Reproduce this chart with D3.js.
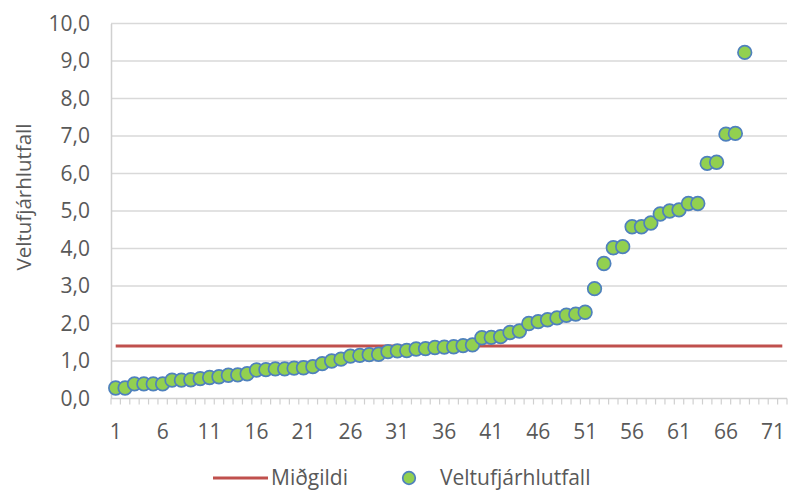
<!DOCTYPE html>
<html>
<head>
<meta charset="utf-8">
<script src="https://cdn.jsdelivr.net/npm/d3@7"></script>
<style>
  body { margin: 0; background: #fff; }
  text { font-family: "Open Sans", sans-serif; fill: #595959; }
</style>
</head>
<body>
<div id="chart"></div>
<script>
// values, sorted ascending
const ratios = [0.28, 0.28, 0.39, 0.39, 0.39, 0.39, 0.49, 0.49, 0.50, 0.53,
  0.56, 0.58, 0.62, 0.63, 0.66, 0.76, 0.77, 0.79, 0.79, 0.81,
  0.82, 0.85, 0.93, 1.00, 1.05, 1.13, 1.15, 1.17, 1.18, 1.25,
  1.27, 1.28, 1.32, 1.33, 1.36, 1.37, 1.38, 1.41, 1.43, 1.62,
  1.63, 1.65, 1.76, 1.80, 2.00, 2.05, 2.10, 2.15, 2.22, 2.25,
  2.30, 2.93, 3.60, 4.02, 4.05, 4.58, 4.58, 4.68, 4.92, 5.00,
  5.03, 5.20, 5.20, 6.27, 6.30, 7.05, 7.07, 9.23]
const categories = d3.range(1, 73)
const median = 1.4
const medianLine = categories.map(c => median)
const yTicks = [0, 1, 2, 3, 4, 5, 6, 7, 8, 9, 10]
const xLabels = [1, 6, 11, 16, 21, 26, 31, 36, 41, 46, 51, 56, 61, 66, 71]
const seriesNames = ['Miðgildi', 'Veltufjárhlutfall']

const w = 792, h = 493
const margin = {top: 23.5, right: 5, bottom: 94.5, left: 111}

const svg = d3.select('#chart').append('svg')
    .attr('width', w)
    .attr('height', h)

const x = d3.scaleBand()
    .domain(categories)
    .range([margin.left, w - margin.right])
const y = d3.scaleLinear()
    .domain([0, 10])
    .range([h - margin.bottom, margin.top])

// gridlines
svg.append('g')
    .selectAll('line')
    .data(yTicks.slice(1))
    .enter()
    .append('line')
    .attr('x1', margin.left)
    .attr('x2', w - margin.right)
    .attr('y1', d => y(d))
    .attr('y2', d => y(d))
    .attr('stroke', '#d9d9d9')
    .attr('stroke-width', 1.5)

// y axis
const yAxis = svg.append('g')
    .attr('transform', 'translate(' + margin.left + ',0)')
    .call(d3.axisLeft(y).tickValues(yTicks).tickSize(0).tickPadding(21)
        .tickFormat(d => d3.format('.1f')(d).replace('.', ',')))
yAxis.select('.domain').attr('stroke', '#d0d0d0').attr('stroke-width', 1.5)
yAxis.selectAll('text').attr('font-size', 21).style('fill', '#595959')

// x axis, ticks between categories
const bottom = h - margin.bottom
svg.append('line')
    .attr('x1', margin.left).attr('x2', w - margin.right)
    .attr('y1', bottom).attr('y2', bottom)
    .attr('stroke', '#d0d0d0').attr('stroke-width', 1.5)
svg.append('g')
    .selectAll('line')
    .data(categories.concat([73]))
    .enter()
    .append('line')
    .attr('x1', d => d > 72 ? w - margin.right : x(d))
    .attr('x2', d => d > 72 ? w - margin.right : x(d))
    .attr('y1', bottom)
    .attr('y2', bottom + 6)
    .attr('stroke', '#d0d0d0')
    .attr('stroke-width', 1.2)
svg.append('g')
    .selectAll('text')
    .data(xLabels)
    .enter()
    .append('text')
    .attr('x', d => x(d) + x.bandwidth() / 2)
    .attr('y', bottom + 40)
    .attr('text-anchor', 'middle')
    .attr('font-size', 21)
    .text(d => d)

// y title
svg.append('text')
    .attr('transform', 'translate(31,197) rotate(-90)')
    .attr('text-anchor', 'middle')
    .attr('font-size', 20.5)
    .text(seriesNames[1])

// median line
const line = d3.line()
    .x((d, i) => x(categories[i]) + x.bandwidth() / 2)
    .y(d => y(d))
svg.append('path')
    .datum(medianLine)
    .attr('d', line)
    .attr('fill', 'none')
    .attr('stroke', '#c0504d')
    .attr('stroke-width', 3)

// points
svg.append('g')
    .selectAll('circle')
    .data(ratios)
    .enter()
    .append('circle')
    .attr('cx', (d, i) => x(categories[i]) + x.bandwidth() / 2)
    .attr('cy', d => y(d))
    .attr('r', 6.8)
    .attr('fill', '#92d050')
    .attr('stroke', '#4f81bd')
    .attr('stroke-width', 1.7)

// legend
const ly = 478
svg.append('line')
    .attr('x1', 213).attr('x2', 268)
    .attr('y1', ly).attr('y2', ly)
    .attr('stroke', '#c0504d').attr('stroke-width', 3)
svg.append('text')
    .attr('x', 271).attr('y', ly + 7)
    .attr('font-size', 21)
    .text(seriesNames[0])
svg.append('circle')
    .attr('cx', 409).attr('cy', ly)
    .attr('r', 6.3)
    .attr('fill', '#92d050')
    .attr('stroke', '#4f81bd')
    .attr('stroke-width', 1.7)
svg.append('text')
    .attr('x', 440).attr('y', ly + 7)
    .attr('font-size', 21)
    .text(seriesNames[1])
</script>
</body>
</html>
